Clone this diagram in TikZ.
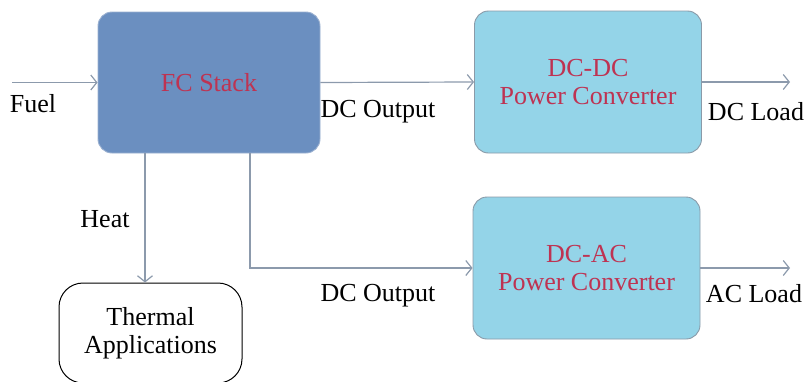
\documentclass[tikz,border=0pt]{standalone}
\usepackage{fontspec}
\setmainfont{Liberation Serif}
\usetikzlibrary{arrows.meta, positioning}
\definecolor{stackfill}{HTML}{6B8FC0}
\definecolor{stackborder}{HTML}{9AB0D0}
\definecolor{converterfill}{HTML}{94D4E8}
\definecolor{converterborder}{HTML}{8A9AA8}
\definecolor{blocktext}{HTML}{BE3352}
\definecolor{flowline}{HTML}{8C9AAC}

\begin{document}
\begin{tikzpicture}[
        x=1pt, y=-1pt,
        font=\fontsize{26}{28}\selectfont,
        block/.style={
            draw,
            rounded corners=14pt,
            align=center,
            text=blocktext,
            line width=0.9pt
        },
        stackblock/.style={
            block,
            fill=stackfill,
            draw=stackborder,
            minimum width=222pt,
            minimum height=141pt
        },
        converterblock/.style={
            block,
            fill=converterfill,
            draw=converterborder,
            minimum width=227pt,
            minimum height=142pt
        },
        thermalblock/.style={
            draw=black,
            rounded corners=24pt,
            align=center,
            line width=1pt,
            minimum width=183pt,
            minimum height=100pt
        },
        flow/.style={-{Straight Barb[length=6pt, width=15pt]}, line width=1.2pt, flowline},
        flowlabel/.style={text=black}
    ]
        \useasboundingbox (0,0) rectangle (807,381);

        \node[stackblock] (stack) at (209,82.5) {FC Stack};
        \node[converterblock] (dcdc) at (588,82) {DC-DC\\Power Converter};
        \node[converterblock] (dcac) at (586.5,268) {DC-AC\\Power Converter};
        \node[thermalblock] (thermal) at (150.5,333) {Thermal\\Applications};

        \coordinate (fuelin) at (12,82.5);
        \coordinate (dcload) at (790,82);
        \coordinate (acload) at (790,268);
        \coordinate (heattop) at (145,153);
        \coordinate (acbranch) at (250,153);

        % connectors
        \draw[flow] (fuelin) -- (stack.west);
        \draw[flow] (stack.east) -- (dcdc.west);
        \draw[flow] (dcdc.east) -- (dcload);
        \draw[flow] (dcac.east) -- (acload);
        \draw[flow] (acbranch) |- (dcac.west);
        \draw[flow] (heattop) -- (heattop |- thermal.north);

        % labels
        \node[flowlabel] (fuellabel) at (33,104) {Fuel};
        \node[flowlabel] (dcoutupper) at (378,112) {DC Output};
        \node[flowlabel] (dcloadlabel) at (756,112) {DC Load};
        \node[flowlabel] (heatlabel) at (105,219) {Heat};
        \node[flowlabel] (dcoutlower) at (378,296) {DC Output};
        \node[flowlabel] (acloadlabel) at (754,294) {AC Load};
    \end{tikzpicture}
\end{document}
